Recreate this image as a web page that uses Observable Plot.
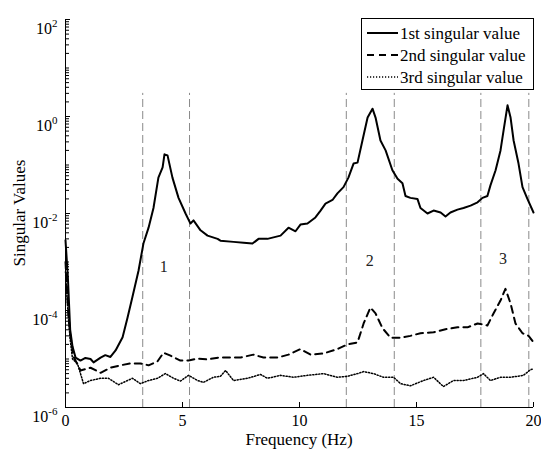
<!DOCTYPE html>
<html><head><meta charset="utf-8">
<script src="https://cdn.jsdelivr.net/npm/d3@7"></script>
<script src="https://cdn.jsdelivr.net/npm/@observablehq/plot@0.6"></script>
<style>
html,body{margin:0;padding:0;background:#fff;}
#chart svg{display:block;}
</style></head><body><div id="chart"></div>
<script>
// ---- data ----
const freq1 = [0, 0.1, 0.2, 0.3, 0.43, 0.64, 0.85, 1.07, 1.2, 1.5,
  1.7, 1.92, 2.14, 2.44, 2.65, 2.86, 3.12, 3.33, 3.55, 3.76,
  3.97, 4.15, 4.23, 4.36, 4.57, 4.83, 5.13, 5.34, 5.47, 5.77,
  6.07, 6.5, 6.62, 7.18, 7.61, 7.99, 8.25, 8.63, 9.19, 9.53,
  9.83, 10.04, 10.34, 10.68, 10.9, 11.11, 11.41, 11.62, 11.88, 12.09,
  12.31, 12.48, 12.69, 12.91, 13.12, 13.25, 13.46, 13.68, 13.97, 14.19,
  14.4, 14.53, 14.74, 15.04, 15.17, 15.47, 15.73, 16.03, 16.24, 16.45,
  16.75, 17.01, 17.31, 17.61, 17.82, 18.03, 18.16, 18.38, 18.59, 18.72,
  18.89, 19.02, 19.15, 19.36, 19.53, 19.74, 20];
const sv1 = [2.8e-3, 5e-4, 4.0e-5, 1.8e-5, 1.07e-5, 9.3e-6, 1.05e-5, 1.0e-5, 8.5e-6, 1.07e-5,
  1.2e-5, 1.1e-5, 1.5e-5, 2.8e-5, 7.1e-5, 1.9e-4, 6.6e-4, 2.4e-3, 5.1e-3, 1.3e-2,
  5.5e-2, 8.9e-2, 0.166, 0.158, 5.5e-2, 2.1e-2, 1.0e-2, 6.2e-3, 7.2e-3, 4.5e-3,
  3.5e-3, 3.0e-3, 2.75e-3, 2.6e-3, 2.5e-3, 2.4e-3, 3.0e-3, 3.0e-3, 3.5e-3, 5.1e-3,
  4.3e-3, 5.9e-3, 6.2e-3, 8.3e-3, 1.15e-2, 1.6e-2, 1.9e-2, 2.6e-2, 3.5e-2, 5.5e-2,
  0.107, 0.112, 0.32, 0.95, 1.45, 0.95, 0.32, 0.2, 7.8e-2, 5.2e-2,
  4.2e-2, 2.3e-2, 2.1e-2, 2.0e-2, 1.3e-2, 1.0e-2, 1.15e-2, 1.05e-2, 8.7e-3, 1.05e-2,
  1.2e-2, 1.3e-2, 1.45e-2, 1.7e-2, 2.1e-2, 2.3e-2, 3.8e-2, 7.8e-2, 0.2, 0.51,
  1.7, 0.95, 0.32, 0.107, 3.5e-2, 2.0e-2, 1.05e-2];

const freq2 = [0, 0.1, 0.2, 0.35, 0.64, 1.07, 1.5, 1.92, 2.35, 2.78,
  3.2, 3.55, 3.93, 4.19, 4.49, 4.91, 5.26, 5.64, 6.07, 6.54,
  7.48, 8.03, 8.46, 9.06, 9.53, 10.04, 10.47, 11.03, 11.62, 12.05,
  12.48, 12.74, 13.03, 13.25, 13.55, 13.89, 14.32, 14.74, 15.17, 15.73,
  16.24, 16.75, 17.18, 17.61, 18.03, 18.29, 18.59, 18.8, 19.02, 19.23,
  19.53, 19.79, 20];
const sv2 = [1.0e-3, 1.3e-4, 3.2e-5, 1.1e-5, 5.8e-6, 6.6e-6, 5.2e-6, 6.6e-6, 7.4e-6, 8.1e-6,
  8.1e-6, 7.4e-6, 8.9e-6, 1.35e-5, 1.17e-5, 9.3e-6, 9.3e-6, 1.02e-5, 9.8e-6, 1.07e-5,
  1.07e-5, 1.23e-5, 1.07e-5, 1.07e-5, 1.23e-5, 1.6e-5, 1.23e-5, 1.3e-5, 1.6e-5, 2.0e-5,
  2.2e-5, 5.4e-5, 1.15e-4, 8.7e-5, 4.3e-5, 2.75e-5, 2.75e-5, 3.0e-5, 3.4e-5, 3.55e-5,
  4.1e-5, 4.5e-5, 4.5e-5, 5.4e-5, 4.9e-5, 8.7e-5, 1.6e-4, 2.8e-4, 1.4e-4, 5.4e-5,
  3.4e-5, 3.0e-5, 2.2e-5];

const freq3 = [0, 0.1, 0.2, 0.3, 0.51, 0.77, 1.07, 1.5, 1.84, 2.26,
  2.65, 2.86, 3.2, 3.55, 3.93, 4.27, 4.62, 4.91, 5.26, 5.64,
  5.9, 6.32, 6.62, 6.84, 7.18, 7.78, 8.33, 8.63, 9.19, 9.74,
  10.34, 11.03, 11.62, 12.05, 12.48, 12.74, 13.16, 13.59, 14.02, 14.32,
  14.74, 15.3, 15.73, 16.15, 16.58, 17.01, 17.61, 17.86, 18.16, 18.59,
  19.02, 19.57, 19.87, 20];
const sv3 = [6.3e-4, 1.0e-4, 2.5e-5, 1.0e-5, 8.1e-6, 3.1e-6, 3.6e-6, 4.0e-6, 4.0e-6, 2.95e-6,
  3.6e-6, 4.0e-6, 3.1e-6, 3.6e-6, 4.0e-6, 5.0e-6, 4.0e-6, 3.5e-6, 4.6e-6, 3.6e-6,
  3.3e-6, 4.2e-6, 4.4e-6, 5.8e-6, 3.6e-6, 4.0e-6, 4.8e-6, 4.0e-6, 4.6e-6, 4.2e-6,
  4.6e-6, 5.0e-6, 4.2e-6, 4.4e-6, 5.0e-6, 5.5e-6, 5.0e-6, 4.2e-6, 4.2e-6, 3.1e-6,
  2.8e-6, 3.6e-6, 4.2e-6, 2.7e-6, 3.6e-6, 3.6e-6, 4.2e-6, 5.0e-6, 3.6e-6, 4.2e-6,
  4.2e-6, 4.6e-6, 6.0e-6, 6.3e-6];

const bandFreqs = [3.3, 5.3, 12.0, 14.05, 17.75, 19.8];
const bandBottom = 1e-6, bandTop = 3;
const modeLabels = ["1", "2", "3"];
const modeFreqs = [4.2, 13.0, 18.7];
const modeValues = [7.8e-4, 1.07e-3, 1.17e-3];
const xTicks = [0, 5, 10, 15, 20];
const yLabelTicks = [1e-6, 1e-4, 1e-2, 1e0, 1e2];
const legendLabels = ["1st singular value", "2nd singular value", "3rd singular value"];
const xTitle = "Frequency (Hz)", yTitle = "Singular Values";

// ---- build ----
const toRows = (f, v) => f.map((x, i) => ({f: x, v: v[i]}));
const s1 = toRows(freq1, sv1), s2 = toRows(freq2, sv2), s3 = toRows(freq3, sv3);
const modes = modeLabels.map((t, i) => ({t, f: modeFreqs[i], v: modeValues[i]}));
const yMinor = [];
for (let e = -6; e < 2; e++) for (let k = 1; k <= 9; k++) yMinor.push(k * Math.pow(10, e));
yMinor.push(100);

const FONT = "Liberation Serif";
const styles = [
  {stroke: "black", strokeWidth: 2, dash: null},
  {stroke: "black", strokeWidth: 2, dash: "7,5"},
  {stroke: "black", strokeWidth: 1.5, dash: "1.2,1.8"}
];

const svg = Plot.plot({
  width: 541, height: 454,
  marginLeft: 65, marginRight: 8, marginTop: 19, marginBottom: 47,
  style: {background: "white", color: "black", overflow: "visible"},
  x: {domain: [0, 20]},
  y: {type: "log", domain: [1e-6, 1e2]},
  marks: [
    Plot.ruleX(bandFreqs, {x: d => d, y1: bandBottom, y2: bandTop, stroke: "#8a8a8a", strokeWidth: 1, strokeDasharray: "8,4"}),
    Plot.line(s3, {x: "f", y: "v", stroke: styles[2].stroke, strokeWidth: styles[2].strokeWidth, strokeDasharray: styles[2].dash}),
    Plot.line(s2, {x: "f", y: "v", stroke: styles[1].stroke, strokeWidth: styles[1].strokeWidth, strokeDasharray: styles[1].dash}),
    Plot.line(s1, {x: "f", y: "v", stroke: styles[0].stroke, strokeWidth: styles[0].strokeWidth}),
    Plot.text(modes, {x: "f", y: "v", text: "t", fontSize: 16, fill: "#222"}),
    Plot.axisX({ticks: xTicks, tickSize: -5, tickPadding: 12, tickFormat: d => String(d), label: null, fontSize: 16}),
    Plot.axisY({ticks: yMinor, tickSize: -4, tickFormat: () => "", label: null}),
    Plot.axisY({ticks: yLabelTicks, tickSize: -5, tickPadding: 13, tickFormat: d => "10^" + Math.round(Math.log10(d)), label: null, fontSize: 16}),
    Plot.ruleX([0], {stroke: "black", strokeWidth: 1}),
    Plot.ruleY([1e-6], {stroke: "black", strokeWidth: 1})
  ]
});
document.getElementById("chart").appendChild(svg);
const root = d3.select(svg);
root.attr("font-family", FONT);

// superscript exponents on y tick labels
root.selectAll("text").each(function () {
  const s = this.textContent;
  if (s.startsWith("10^")) {
    const exp = s.slice(3);
    const t = d3.select(this);
    t.text("10").attr("dy", "0.6em");
    t.append("tspan").attr("dy", -7).attr("font-size", 11).text(exp);
  }
});

// axis titles
root.append("text").attr("x", 299).attr("y", 445).attr("text-anchor", "middle")
  .attr("font-size", 17).attr("fill", "black").text(xTitle);
root.append("text").attr("transform", "translate(25,213) rotate(-90)").attr("text-anchor", "middle")
  .attr("font-size", 17).attr("fill", "black").text(yTitle);

// legend
const lg = root.append("g").attr("font-size", 17).attr("text-anchor", "start");
lg.append("rect").attr("x", 361.5).attr("y", 18.5).attr("width", 172).attr("height", 71)
  .attr("fill", "white").attr("stroke", "black").attr("stroke-width", 1);
legendLabels.forEach((lab, i) => {
  const y = 33 + i * 22;
  const st = styles[i];
  lg.append("line").attr("x1", 367).attr("x2", 398).attr("y1", y).attr("y2", y)
    .attr("stroke", st.stroke).attr("stroke-width", st.strokeWidth)
    .attr("stroke-dasharray", st.dash);
  lg.append("text").attr("x", 400).attr("y", y).attr("dy", "0.35em").attr("text-anchor", "start")
    .attr("fill", "black").text(lab);
});

// force the serif face on every text element
root.selectAll("text, tspan").attr("font-family", FONT).style("font-family", FONT);
</script></body></html>
